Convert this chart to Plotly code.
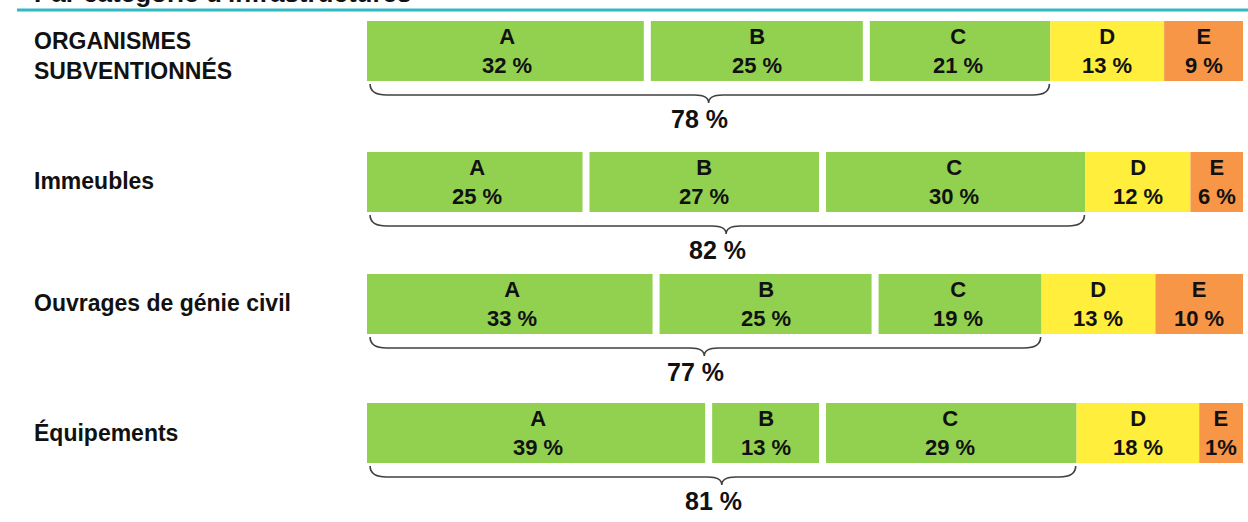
import plotly.graph_objects as go

# ---------------- data ----------------
categories = ["ORGANISMES<br>SUBVENTIONNÉS", "Immeubles", "Ouvrages de génie civil", "Équipements"]
segments = ["A", "B", "C", "D", "E"]

# segment lengths as drawn (percent of bar)
len_A = [32, 25, 33, 39]
len_B = [25, 27, 25, 13]
len_C = [21, 30, 19, 29]
len_D = [13, 12, 13, 14]
len_E = [9, 6, 10, 5]

# printed labels
lab_A = ["32 %", "25 %", "33 %", "39 %"]
lab_B = ["25 %", "27 %", "25 %", "13 %"]
lab_C = ["21 %", "30 %", "19 %", "29 %"]
lab_D = ["13 %", "12 %", "13 %", "18 %"]
lab_E = ["9 %", "6 %", "10 %", "1%"]

total_ABC = ["78 %", "82 %", "77 %", "81 %"]

title_text = "Par catégorie d'infrastructures"

# ---------------- layout helpers ----------------
W, H = 1248, 522
X0_PX = 367          # pixel where 0 % starts
PX_PER_UNIT = 8.76   # pixels per percent
row_y = [51, 182, 304, 433]   # row centres in pixel-like y units
BAR_H = 60
GAP = 0.8

GREEN = "#92D050"
YELLOW = "#FFEE3B"
ORANGE = "#F79646"
FONT = "Liberation Sans, Arial, sans-serif"

lengths = [len_A, len_B, len_C, len_D, len_E]
labels = [lab_A, lab_B, lab_C, lab_D, lab_E]
colors = [GREEN, GREEN, GREEN, YELLOW, ORANGE]

fig = go.Figure()
annotations = []
shapes = []

for si, seg in enumerate(segments):
    bases, widths = [], []
    for ri in range(len(categories)):
        start = sum(lengths[k][ri] for k in range(si))
        end = start + lengths[si][ri]
        s, e = start, end
        if si in (1, 2):
            s += GAP / 2
        if si in (0, 1):
            e -= GAP / 2
        bases.append(s)
        widths.append(e - s)
        annotations.append(dict(
            x=(start + end) / 2, y=row_y[ri], xref="x", yref="y",
            text=f"<b>{seg}</b><br><b>{labels[si][ri]}</b>",
            showarrow=False, font=dict(family=FONT, size=22, color="#111111"),
            xanchor="center", yanchor="middle", align="center"))
    fig.add_trace(go.Bar(
        y=row_y, x=widths, base=bases, orientation="h", width=BAR_H,
        marker=dict(color=colors[si], line=dict(width=0)),
        hoverinfo="skip", showlegend=False))

# braces under the green segments + totals
for ri in range(len(categories)):
    end = len_A[ri] + len_B[ri] + len_C[ri]
    b = row_y[ri] + BAR_H / 2
    x0, x1 = 0.35, end - 0.1
    mid = (0 + end) / 2
    r = 1.9
    path = (f"M {x0},{b+3} Q {x0},{b+14} {x0+r},{b+14} "
            f"L {mid-1.6},{b+14} Q {mid},{b+14} {mid},{b+22} "
            f"Q {mid},{b+14} {mid+1.6},{b+14} "
            f"L {x1-r},{b+14} Q {x1},{b+14} {x1},{b+3}")
    shapes.append(dict(type="path", path=path, xref="x", yref="y",
                       line=dict(color="#404040", width=1.6)))
    annotations.append(dict(
        x=mid - 1.0, y=b + 38, xref="x", yref="y",
        text=f"<b>{total_ABC[ri]}</b>", showarrow=False,
        font=dict(family=FONT, size=25, color="#111111"),
        xanchor="center", yanchor="middle"))

# category labels
label_y = [56, 181, 303, 432]
for ri, cat in enumerate(categories):
    annotations.append(dict(
        x=32 / W, y=label_y[ri], xref="paper", yref="y",
        text=f"<b>{cat}</b>", showarrow=False, align="left",
        font=dict(family=FONT, size=23, color="#111111"),
        xanchor="left", yanchor="middle"))

# title (cut off at top) and teal rule
annotations.append(dict(
    x=32 / W, y=1 + 7 / H, xref="paper", yref="paper", text=f"<b>{title_text}</b>",
    showarrow=False, font=dict(family=FONT, size=26, color="#111111"),
    xanchor="left", yanchor="middle"))
shapes.append(dict(type="line", xref="paper", yref="y", x0=17 / W, x1=1, y0=10, y1=10,
                   line=dict(color="#31B9C1", width=3)))

fig.update_layout(
    width=W, height=H,
    margin=dict(l=0, r=0, t=0, b=0),
    paper_bgcolor="white", plot_bgcolor="white",
    barmode="overlay",
    xaxis=dict(range=[-X0_PX / PX_PER_UNIT, (W - X0_PX) / PX_PER_UNIT],
               visible=False, fixedrange=True),
    yaxis=dict(range=[H, 0], visible=False, fixedrange=True),
    annotations=annotations, shapes=shapes,
)

fig.write_html("out.html", config={"displayModeBar": False},
               post_script="document.body.style.margin='0';document.body.style.overflow='hidden';")
